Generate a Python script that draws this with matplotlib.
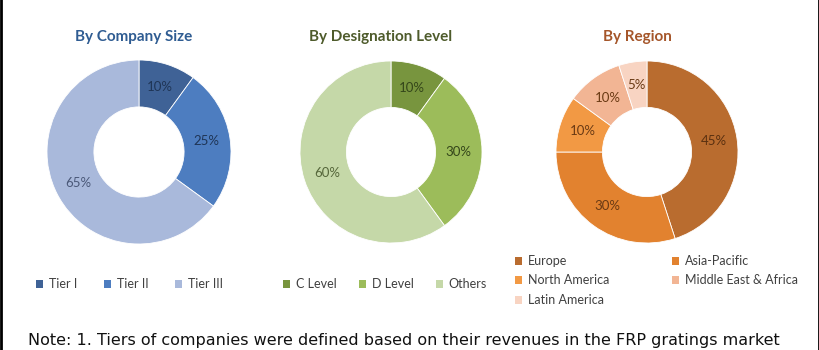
import matplotlib
matplotlib.use("Agg")
import matplotlib.pyplot as plt
from matplotlib.patches import Patch
from matplotlib.lines import Line2D

plt.rcParams['font.family'] = ['Lato', 'DejaVu Sans']

size_labels = ["Tier I", "Tier II", "Tier III"]
size_values = [10, 25, 65]
size_colors = ["#3F6296", "#4D7DC0", "#A9B9DB"]
size_text = ["#1F3556", "#1F3556", "#4A5878"]

desig_labels = ["C Level", "D Level", "Others"]
desig_values = [10, 30, 60]
desig_colors = ["#78953E", "#9CBC5A", "#C5D8A8"]
desig_text = ["#34461A", "#34461A", "#55663A"]

region_labels = ["Europe", "Asia-Pacific", "North America", "Middle East & Africa", "Latin America"]
region_values = [45, 30, 10, 10, 5]
region_colors = ["#B96C2F", "#E2822F", "#F29944", "#F2B594", "#F8D4C2"]
region_text = ["#5A3010", "#6A3A14", "#6A3A14", "#6A3A14", "#6A3A14"]

titles = ["By Company Size", "By Designation Level", "By Region"]
title_colors = ["#2F5C92", "#4E5B2B", "#A5562A"]

note = "Note: 1. Tiers of companies were defined based on their revenues in the FRP gratings market"

W, H = 820, 350
fig = plt.figure(figsize=(W / 100, H / 100), dpi=100)
fig.patch.set_facecolor("white")

def add_donut(cx, cy, r, values, colors, tcolors):
    ax = fig.add_axes([(cx - r) / W, 1 - (cy + r) / H, 2 * r / W, 2 * r / H])
    wedges, texts, autotexts = ax.pie(values, colors=colors, startangle=90, counterclock=False,
                                      autopct="%d%%", pctdistance=0.74,
                                      wedgeprops=dict(width=0.51, edgecolor="white", linewidth=0.6),
                                      textprops=dict(fontsize=9.5))
    for t, c in zip(autotexts, tcolors):
        t.set_color(c)
    ax.set_xlim(-1, 1)
    ax.set_ylim(-1, 1)
    ax.set_aspect("equal")
    return ax, wedges

ax1, w1 = add_donut(139, 152, 92, size_values, size_colors, size_text)
ax2, w2 = add_donut(391, 152, 91, desig_values, desig_colors, desig_text)
ax3, w3 = add_donut(647, 152, 91, region_values, region_colors, region_text)

for x, t, c in zip([134, 381, 637], titles, title_colors):
    fig.text(x / W, 1 - 37 / H, t, ha="center", va="center", fontsize=11, color=c, fontweight="bold")

def handles(labels, colors, order=None):
    items = [Patch(facecolor=c, edgecolor="none", label=l) for l, c in zip(labels, colors)]
    if order is not None:
        items = [items[i] for i in order]
    return items

common = dict(frameon=False, fontsize=9, handlelength=0.6, handleheight=0.6,
              handletextpad=0.45, labelcolor="#404040", bbox_transform=fig.transFigure,
              borderpad=0, borderaxespad=0)

leg1 = fig.legend(handles=handles(size_labels, size_colors), loc="center left",
                  bbox_to_anchor=(36 / W, 1 - 284 / H), ncol=3, columnspacing=2.1, **common)
leg2 = fig.legend(handles=handles(desig_labels, desig_colors), loc="center left",
                  bbox_to_anchor=(283 / W, 1 - 284 / H), ncol=3, columnspacing=1.75, **common)
# row-major order as in the reference (matplotlib fills column by column)
leg3 = fig.legend(handles=handles(region_labels, region_colors, order=[0, 2, 4, 1, 3]),
                  loc="upper left", bbox_to_anchor=(515 / W, 1 - 255 / H), ncol=2,
                  columnspacing=5.0, labelspacing=0.6, **common)

fig.text(28 / W, 1 - 345 / H, note, ha="left", va="baseline", fontsize=11.5,
         color="#111111", family="DejaVu Sans")

fig.add_artist(Line2D([1 / W, 1 / W], [0, 1], transform=fig.transFigure, color="black", linewidth=2))
fig.add_artist(Line2D([1 - 1 / W, 1 - 1 / W], [0, 1], transform=fig.transFigure, color="black", linewidth=2))

fig.savefig("out.png", dpi=100)
